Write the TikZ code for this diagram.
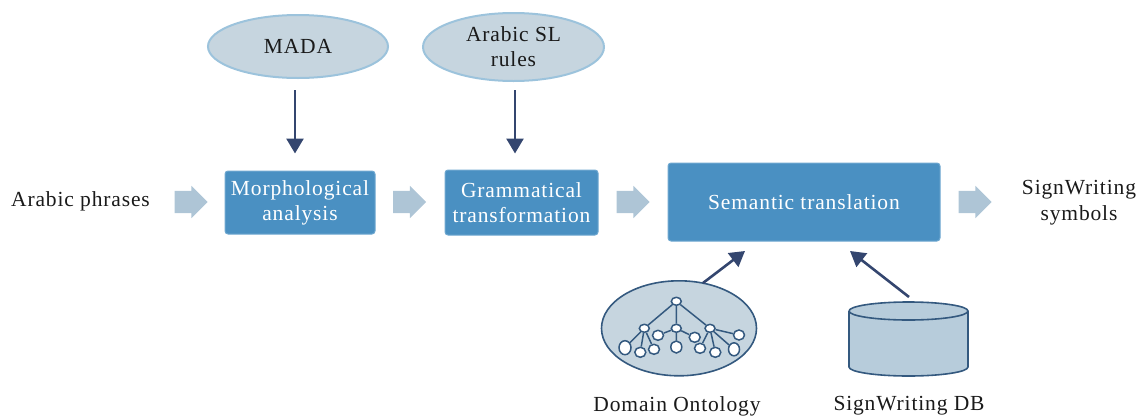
\documentclass[tikz,border=0pt]{standalone}
\usepackage{fontspec}
\setmainfont{Liberation Serif}[LetterSpace=4]
\usetikzlibrary{shapes.geometric,shapes.arrows,arrows.meta,calc}
\definecolor{boxblue}{HTML}{4A90C2}
\definecolor{boxedge}{HTML}{6FA8D0}
\definecolor{ellfill}{HTML}{C6D5DF}
\definecolor{elledge}{HTML}{9CC3DC}
\definecolor{blockc}{HTML}{AEC5D6}
\definecolor{darkarrow}{HTML}{34466F}
\definecolor{treeedge}{HTML}{34597F}
\definecolor{dbfill}{HTML}{B7CCDB}
\definecolor{txt}{HTML}{1A1A1A}
\tikzset{
 x=1pt,y=-1pt,
 lab/.style={font=\fontsize{21.5}{26}\selectfont,text=txt,align=center,inner sep=0pt},
 procbox/.style={draw=boxedge,line width=1pt,fill=boxblue,rounded corners=3pt,text=white,align=center,font=\fontsize{21.5}{25}\selectfont,inner sep=0pt},
 topell/.style={ellipse,draw=elledge,line width=2pt,fill=ellfill,text=txt,align=center,font=\fontsize{21.5}{25}\selectfont,inner sep=0pt},
 blockarrow/.style={single arrow,fill=blockc,draw=none,minimum height=33pt,single arrow head extend=5pt,single arrow tip angle=90,inner sep=0pt},
 feed/.style={draw=darkarrow,line width=2.6pt,-{Triangle[length=15pt,width=17pt,fill=darkarrow]}},
 treeln/.style={draw=treeedge,line width=1.5pt},
 tn/.style={ellipse,draw=treeedge,line width=1.5pt,fill=white,inner sep=0pt,minimum width=10pt,minimum height=8pt},
 tl/.style={ellipse,draw=treeedge,line width=1.5pt,fill=white,inner sep=0pt,minimum width=11pt,minimum height=10pt},
}
\newcommand{\shaftrule}{\rule{0pt}{22pt}}
\begin{document}
\begin{tikzpicture}
\useasboundingbox (0,0) rectangle (1138,418);
\node[lab] (in) at (80.5,201) {Arabic phrases};
\node[procbox,minimum width=150pt,minimum height=63pt] (morph) at (300,202.5) {Morphological\\analysis};
\node[procbox,minimum width=153pt,minimum height=65pt] (gram) at (521.5,202.5) {Grammatical\\transformation};
\node[procbox,minimum width=272pt,minimum height=78pt] (sem) at (804,202) {Semantic translation};
\node[lab] (out) at (1079,203) {SignWriting\\symbols};
\node[blockarrow] (b1) at (185.5,202) {\shaftrule};
\node[blockarrow] (b2) at (404,202) {\shaftrule};
\node[blockarrow] (b3) at (627.5,202) {\shaftrule};
\node[blockarrow] (b4) at (969.5,202) {\shaftrule};
\node[topell,minimum width=180pt,minimum height=63pt] (mada) at (298,46.5) {MADA};
\node[topell,minimum width=181pt,minimum height=68pt] (sl) at (513.5,47) {Arabic SL\\rules};
\coordinate (m1) at (295,90);\coordinate (m2) at (295,153.5);
\coordinate (s1) at (515,90);\coordinate (s2) at (515,153.5);
\draw[feed] (m1) -- (m2);
\draw[feed] (s1) -- (s2);
\node[ellipse,draw=treeedge,line width=1.6pt,fill=ellfill,minimum width=155pt,minimum height=95pt,inner sep=0pt] (onto) at (679,328.3) {};
\node[tn] (r) at (676.3,301.3) {};
\node[tn] (a) at (644.3,328.3) {};
\node[tn] (b) at (676.3,328.3) {};
\node[tn] (c) at (710,328.3) {};
\node[tl,minimum width=12pt,minimum height=14pt] (l1) at (625,347.7) {};
\node[tl] (l2) at (640.3,352.3) {};
\node[tl] (l3) at (654,349.3) {};
\node[tl] (l4) at (658,335.3) {};
\node[tl,minimum height=12pt] (l5) at (676.3,347) {};
\node[tl] (l6) at (694.7,337.3) {};
\node[tl] (l7) at (700,348.3) {};
\node[tl] (l8) at (715.3,352.3) {};
\node[tl,minimum height=13pt] (l9) at (734,349.3) {};
\node[tl] (l10) at (739,335) {};
\draw[treeln] (r)--(a) (r)--(b) (r)--(c) (a)--(l1) (a)--(l2) (a)--(l3) (b)--(l4) (b)--(l5) (b)--(l6) (c)--(l7) (c)--(l8) (c)--(l9) (c)--(l10);
% cylinder
\path[draw=treeedge,line width=1.6pt,fill=dbfill] (849,311) -- (849,367) arc[start angle=180,end angle=360,x radius=59.5,y radius=-9] -- (968,311) arc[start angle=0,end angle=180,x radius=59.5,y radius=-9];
\draw[treeedge,line width=1.6pt] (849,311) arc[start angle=180,end angle=360,x radius=59.5,y radius=-9];
\coordinate (o1) at (703,283);\coordinate (o2) at (745,251);
\coordinate (d1) at (909,297);\coordinate (d2) at (850,251);
\draw[feed] (o1) -- (o2);
\draw[feed] (d1) -- (d2);
\node[lab] (ol) at (677,406) {Domain Ontology};
\node[lab] (dl) at (909,406) {SignWriting DB};
\end{tikzpicture}
\end{document}
